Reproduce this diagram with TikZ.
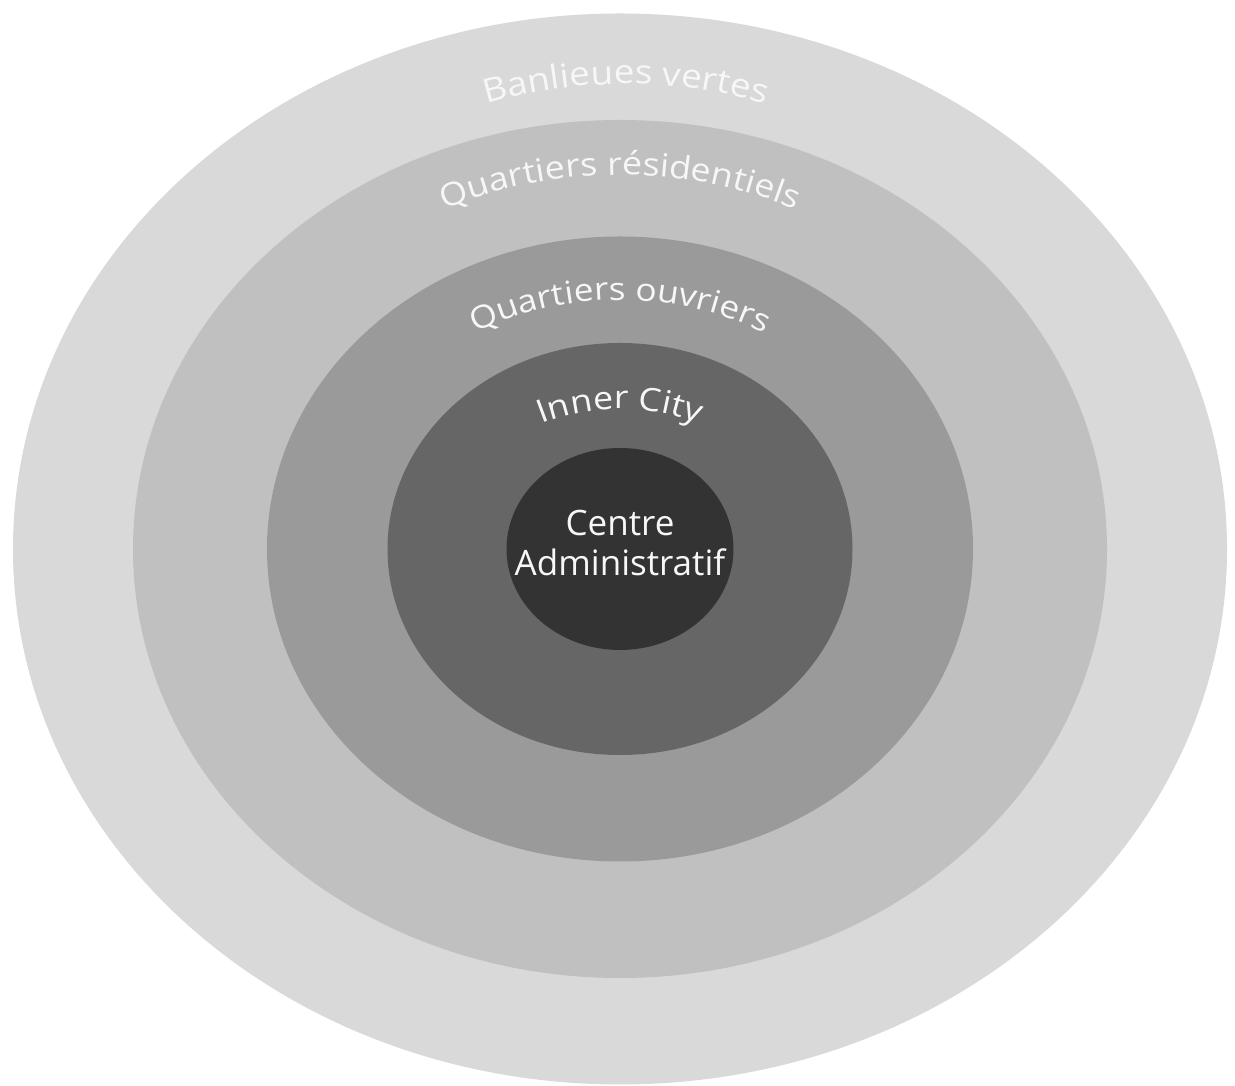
\documentclass[tikz,border=0pt]{standalone}
\usepackage{fontspec}
\setmainfont{Open Sans}
\newfontfamily\ringfont{Open Sans}[FakeStretch=1.12]
\usetikzlibrary{shapes.geometric,decorations.text,calc}
\definecolor{ringA}{HTML}{D9D9D9}
\definecolor{ringB}{HTML}{C0C0C0}
\definecolor{ringC}{HTML}{9A9A9A}
\definecolor{ringD}{HTML}{666666}
\definecolor{ringE}{HTML}{333333}
\definecolor{labelcol}{HTML}{F7F7F7}
\tikzset{
  ring/.style={ellipse, draw=none, inner sep=0pt},
  arclabel/.style={decorate, decoration={text along path, text align=center, text color=labelcol}}
}
\begin{document}
\begin{tikzpicture}[x=1pt,y=1pt]
\useasboundingbox[fill=white] (0,0) rectangle (1235,1086);
\coordinate (c) at (620,537);
\coordinate (cb) at (626,540);
\node[ring, fill=ringA, minimum width=1214pt, minimum height=1071pt] (outer) at (c) {};
\node[ring, fill=ringB, minimum width=974pt, minimum height=858pt] (resid) at (c) {};
\node[ring, fill=ringC, minimum width=706pt, minimum height=625pt] (ouvr) at (c) {};
\node[ring, fill=ringD, minimum width=465pt, minimum height=412pt] (inner) at (c) {};
\node[ring, fill=ringE, minimum width=227pt, minimum height=202pt] (centre) at (c) {};
% arc labels
\path[arclabel, decoration={text={|\ringfont\fontsize{33}{33}\selectfont|Banlieues vertes}}]
  ($(cb)+(150:480 and 462)$) arc[start angle=150, end angle=30, x radius=480, y radius=462];
\path[arclabel, decoration={text={|\ringfont\fontsize{32}{32}\selectfont|Quartiers résidentiels}}]
  ($(c)+(150:420 and 374)$) arc[start angle=150, end angle=30, x radius=420, y radius=374];
\path[arclabel, decoration={text={|\ringfont\fontsize{31.5}{32}\selectfont|Quartiers ouvriers}}]
  ($(c)+(150:290 and 249)$) arc[start angle=150, end angle=30, x radius=290, y radius=249];
\path[arclabel, decoration={text={|\ringfont\fontsize{32}{32}\selectfont|Inner City}}]
  ($(c)+(150:175 and 140)$) arc[start angle=150, end angle=30, x radius=175, y radius=140];
\node[text=labelcol, align=center, font=\fontsize{35}{40}\selectfont, inner sep=0pt] (centrelabel) at (620,542.5) {Centre\\Administratif};
\end{tikzpicture}
\end{document}
